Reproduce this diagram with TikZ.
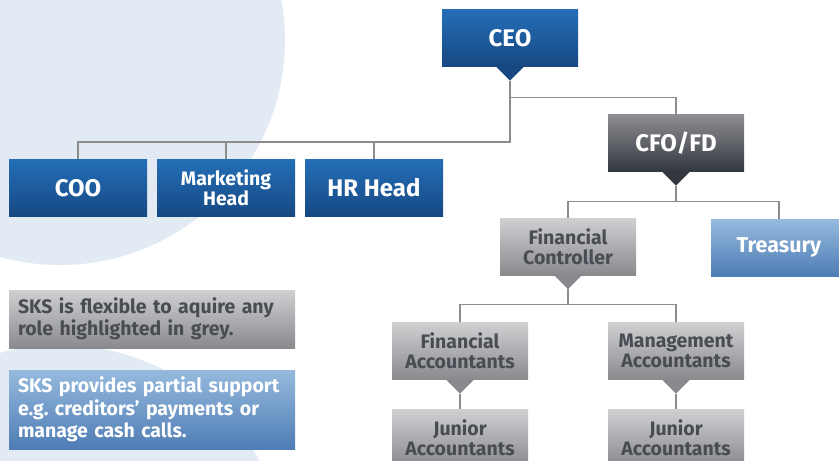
\documentclass[tikz,border=0pt]{standalone}
\usepackage{fontspec}
\setmainfont{Fira Sans}
\usetikzlibrary{positioning}

\definecolor{bgcirc}{RGB}{226,234,244}
\definecolor{blutop}{RGB}{36,110,183}
\definecolor{blubot}{RGB}{22,72,130}
\definecolor{drktop}{RGB}{142,142,147}
\definecolor{drkbot}{RGB}{50,55,62}
\definecolor{gretop}{RGB}{208,208,211}
\definecolor{grebot}{RGB}{138,138,142}
\definecolor{gretxt}{RGB}{72,77,84}
\definecolor{lbltop}{RGB}{150,186,222}
\definecolor{lblbot}{RGB}{78,124,180}
\definecolor{connline}{RGB}{140,140,140}

\tikzset{
  orgbox/.style={rectangle, minimum width=136, minimum height=57, inner sep=0,
    align=center, font=\bfseries\fontsize{19.5}{20}\selectfont},
  bigtext/.style={font=\bfseries\fontsize{24}{26}\selectfont},
  blubox/.style={orgbox, top color=blutop, bottom color=blubot, text=white},
  drkbox/.style={orgbox, top color=drktop, bottom color=drkbot, text=white},
  grebox/.style={orgbox, top color=gretop, bottom color=grebot, text=gretxt},
  lblbox/.style={orgbox, top color=lbltop, bottom color=lblbot, text=white},
  notebox/.style={rectangle, text width=268, inner xsep=9, inner ysep=0,
    align=left, font=\bfseries\fontsize{19.5}{22.5}\selectfont},
  conn/.style={connline, line width=1.2pt},
}

% little pointer under a box, and a coordinate at its tip
\newcommand{\boxtip}[3]{%
  \fill[#2] (#1.south) ++(-13.5,0.5) -- ++(27,0) -- ++(-13.5,13.5) -- cycle;
  \coordinate (#3) at ([yshift=-14pt]#1.south);}

\begin{document}
\begin{tikzpicture}[x=1pt,y=-1pt]
\useasboundingbox (0,0) rectangle (839,461);
\clip (0,0) rectangle (839,461);

% background circles
\fill[bgcirc] (60,40) circle[radius=225pt];
\fill[bgcirc] (60,575) circle[radius=230pt];

% top level
\node[blubox, bigtext] (ceo) at (510,38) {CEO};
\node[blubox, bigtext, minimum width=138] (coo) at (78,188) {COO};
\node[blubox, minimum width=138] (mkt) at (226,188) {Marketing\\Head};
\node[blubox, bigtext, minimum width=138] (hr) at (374,188) {HR Head};
\node[drkbox, bigtext] (cfo) at (676,143) {CFO/FD};

% finance
\node[grebox] (fc) at (568,246.5) {Financial\\Controller};
\node[lblbox, font=\bfseries\fontsize{21.5}{22}\selectfont] (tre) at (779,247.5) {Treasury};
\node[grebox] (fa) at (460,351) {Financial\\Accountants};
\node[grebox] (ma) at (676,351) {Management\\Accountants};
\node[grebox] (ja1) at (460,437.5) {Junior\\Accountants};
\node[grebox] (ja2) at (676,437.5) {Junior\\Accountants};

\boxtip{ceo}{blubot}{ceo-tip}
\boxtip{cfo}{drkbot}{cfo-tip}
\boxtip{fc}{grebot}{fc-tip}
\boxtip{fa}{grebot}{fa-tip}
\boxtip{ma}{grebot}{ma-tip}

% connectors
\coordinate (topbar) at (510,142);
\draw[conn] (ceo-tip) -- ++(0,17) -| (cfo.north);
\draw[conn] (ceo-tip) -- (topbar) -| (coo.north);
\draw[conn] (mkt.north) -- (mkt.north |- topbar);
\draw[conn] (hr.north) -- (hr.north |- topbar);
\draw[conn] (cfo-tip) -- ++(0,16) coordinate (cfobar);
\draw[conn] (fc.north) |- (cfobar) -| (tre.north);
\draw[conn] (fc-tip) -- ++(0,15) coordinate (fcbar);
\draw[conn] (fa.north) |- (fcbar) -| (ma.north);
\draw[conn] (fa-tip) -- (ja1.north);
\draw[conn] (ma-tip) -- (ja2.north);

% notes
\node[notebox, top color=gretop, bottom color=grebot, text=gretxt, minimum height=58] (greynote) at (152,319)
  {SKS is flexible to aquire any role highlighted in grey.};
\node[notebox, top color=lbltop, bottom color=lblbot, text=white, minimum height=79] (bluenote) at (152,409.5)
  {SKS provides partial support e.g.\ creditors’ payments or manage cash calls.};
\end{tikzpicture}
\end{document}
